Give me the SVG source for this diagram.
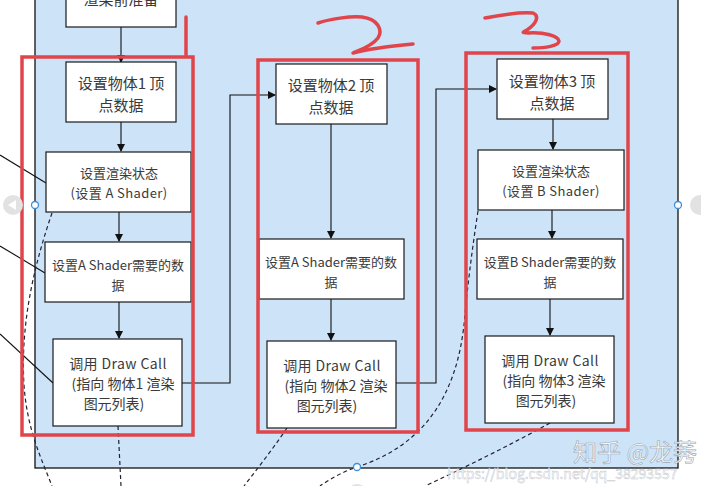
<svg xmlns="http://www.w3.org/2000/svg" width="701" height="486" viewBox="0 0 701 486">
<defs>
<marker id="ah" markerWidth="8" markerHeight="8" refX="7" refY="4" orient="auto" markerUnits="userSpaceOnUse"><path d="M0,0 L8,4 L0,8 Z" fill="#111"/></marker>
<style>
.node rect{fill:#fff;stroke:#1a1a1a;stroke-width:1.2}
.node text{font-family:"Noto Sans CJK SC","Microsoft YaHei",sans-serif;fill:#3a3a3a;text-anchor:middle}
.t15{font-size:15px}
.t13{font-size:13px}
.t14{font-size:14px}
.lat{letter-spacing:0.4px}
.conn{fill:none;stroke:#111;stroke-width:1.1}
.dash{fill:none;stroke:#223;stroke-width:1.2;stroke-dasharray:4 3}
.red{fill:none;stroke:#e0454b;stroke-width:3.5}
.handle{fill:#fff;stroke:#3b8fd9;stroke-width:1.3}
</style>
</defs>
<rect width="701" height="486" fill="#fff"/>
<rect x="35" y="-2" width="643" height="470" fill="#cde3f8" stroke="#111" stroke-width="1.3"/>

<g id="connectors">
<line class="conn" x1="121" y1="27" x2="121" y2="62" marker-end="url(#ah)"/>
<line class="conn" x1="121" y1="122" x2="121" y2="151" marker-end="url(#ah)"/>
<line class="conn" x1="119" y1="212" x2="119" y2="241" marker-end="url(#ah)"/>
<line class="conn" x1="119" y1="302" x2="119" y2="338" marker-end="url(#ah)"/>
<path class="conn" d="M182,383 H230 V95 H275" marker-end="url(#ah)"/>
<line class="conn" x1="331" y1="124" x2="331" y2="238" marker-end="url(#ah)"/>
<line class="conn" x1="331" y1="299" x2="331" y2="340" marker-end="url(#ah)"/>
<path class="conn" d="M396,383 H436 V89 H496" marker-end="url(#ah)"/>
<line class="conn" x1="553" y1="119" x2="553" y2="149" marker-end="url(#ah)"/>
<line class="conn" x1="552" y1="210" x2="552" y2="238" marker-end="url(#ah)"/>
<line class="conn" x1="550" y1="299" x2="550" y2="335" marker-end="url(#ah)"/>
<line class="conn" x1="0" y1="155" x2="46" y2="183"/>
<line class="conn" x1="0" y1="246" x2="45" y2="273"/>
<line class="conn" x1="0" y1="334" x2="53" y2="383"/>
<path class="dash" d="M52,213 C36,260 20,320 24,385 C27,430 42,460 52,486"/>
<path class="dash" d="M118,426 L121,486"/>
<path class="dash" d="M287,428 C272,450 258,468 244,486"/>
<path class="dash" d="M478,211 C472,250 467,290 464,325 C456,395 425,445 357,467 C342,472 330,479 320,486"/>
<path class="dash" d="M550,423 C512,444 470,465 425,486"/>
</g>

<g id="n0" class="node"><rect x="66" y="-10" width="110" height="37"/><text class="t15" x="121" y="5">渲染前准备</text></g>

<g id="n1a" class="node"><rect x="66" y="62" width="110" height="60"/><text class="t15" x="121" y="89">设置物体1 顶</text><text class="t15" x="121" y="111">点数据</text></g>
<g id="n1b" class="node"><rect x="46" y="152" width="145" height="60"/><text class="t13" x="119" y="178">设置渲染状态</text><text class="t13 lat" x="119" y="198">(设置 A Shader)</text></g>
<g id="n1c" class="node"><rect x="45" y="242" width="146" height="60"/><text class="t13" x="118" y="270">设置A Shader需要的数</text><text class="t13" x="118" y="290">据</text></g>
<g id="n1d" class="node"><rect x="53" y="339" width="129" height="87"/><text class="t14 lat" x="118" y="369">调用 Draw Call</text><text class="t14" x="123" y="389">(指向 物体1 渲染</text><text class="t14" x="114" y="409">图元列表)</text></g>

<g id="n2a" class="node"><rect x="276" y="64" width="111" height="60"/><text class="t15" x="331" y="91">设置物体2 顶</text><text class="t15" x="331" y="113">点数据</text></g>
<g id="n2c" class="node"><rect x="259" y="239" width="145" height="60"/><text class="t13" x="331" y="267">设置A Shader需要的数</text><text class="t13" x="331" y="287">据</text></g>
<g id="n2d" class="node"><rect x="267" y="341" width="129" height="87"/><text class="t14 lat" x="332" y="371">调用 Draw Call</text><text class="t14" x="336" y="391">(指向 物体2 渲染</text><text class="t14" x="327" y="411">图元列表)</text></g>

<g id="n3a" class="node"><rect x="497" y="59" width="111" height="60"/><text class="t15" x="552" y="87">设置物体3 顶</text><text class="t15" x="552" y="109">点数据</text></g>
<g id="n3b" class="node"><rect x="478" y="150" width="146" height="60"/><text class="t13" x="551" y="176">设置渲染状态</text><text class="t13 lat" x="551" y="196">(设置 B Shader)</text></g>
<g id="n3c" class="node"><rect x="477" y="239" width="146" height="60"/><text class="t13" x="550" y="267">设置B Shader需要的数</text><text class="t13" x="550" y="287">据</text></g>
<g id="n3d" class="node"><rect x="485" y="336" width="129" height="87"/><text class="t14 lat" x="550" y="366">调用 Draw Call</text><text class="t14" x="554" y="386">(指向 物体3 渲染</text><text class="t14" x="546" y="406">图元列表)</text></g>

<g id="annotations">
<rect class="red" x="22" y="57" width="171" height="378"/>
<rect class="red" x="258" y="60" width="160" height="372"/>
<rect class="red" x="466" y="53" width="162" height="377"/>
<path class="red" d="M186,17 L186,55" stroke-linecap="round"/>
<path class="red" stroke-linecap="round" stroke-linejoin="round" d="M318,23 C330,19 350,16 362,17 C378,19 383,30 378,38 C372,46 360,50 353,53 C368,49 392,46 413,44"/>
<path class="red" stroke-linecap="round" stroke-linejoin="round" d="M485,18 C500,15 520,12 533,13 C540,16 536,24 527,30 C524,32 520,33 528,33 C545,32 558,36 559,41 C559,46 545,48 533,48"/>
</g>

<g id="handles">
<circle cx="13" cy="205" r="10" fill="#e2e2e2"/>
<path d="M8,205 L16,200 L16,210 Z" fill="#fff"/>
<circle cx="700" cy="205" r="10" fill="#e2e2e2"/>
<circle cx="357" cy="494" r="10" fill="#e2e2e2"/>
<circle class="handle" cx="35" cy="205" r="3.5"/>
<circle class="handle" cx="678" cy="205" r="3.5"/>
<circle class="handle" cx="357" cy="467" r="3.5"/>
</g>

<g id="watermark" font-family="'Noto Sans CJK SC',sans-serif">
<text x="573" y="461" font-size="24" fill="#fff" fill-opacity="0.9" stroke="#9aa4ad" stroke-width="0.6">知乎 @龙莠</text>
<text x="447" y="479" font-size="14" fill="#fff" fill-opacity="0.75" stroke="#b8c0c8" stroke-width="0.4">https://blog.csdn.net/qq_38293557</text>
</g>
</svg>
